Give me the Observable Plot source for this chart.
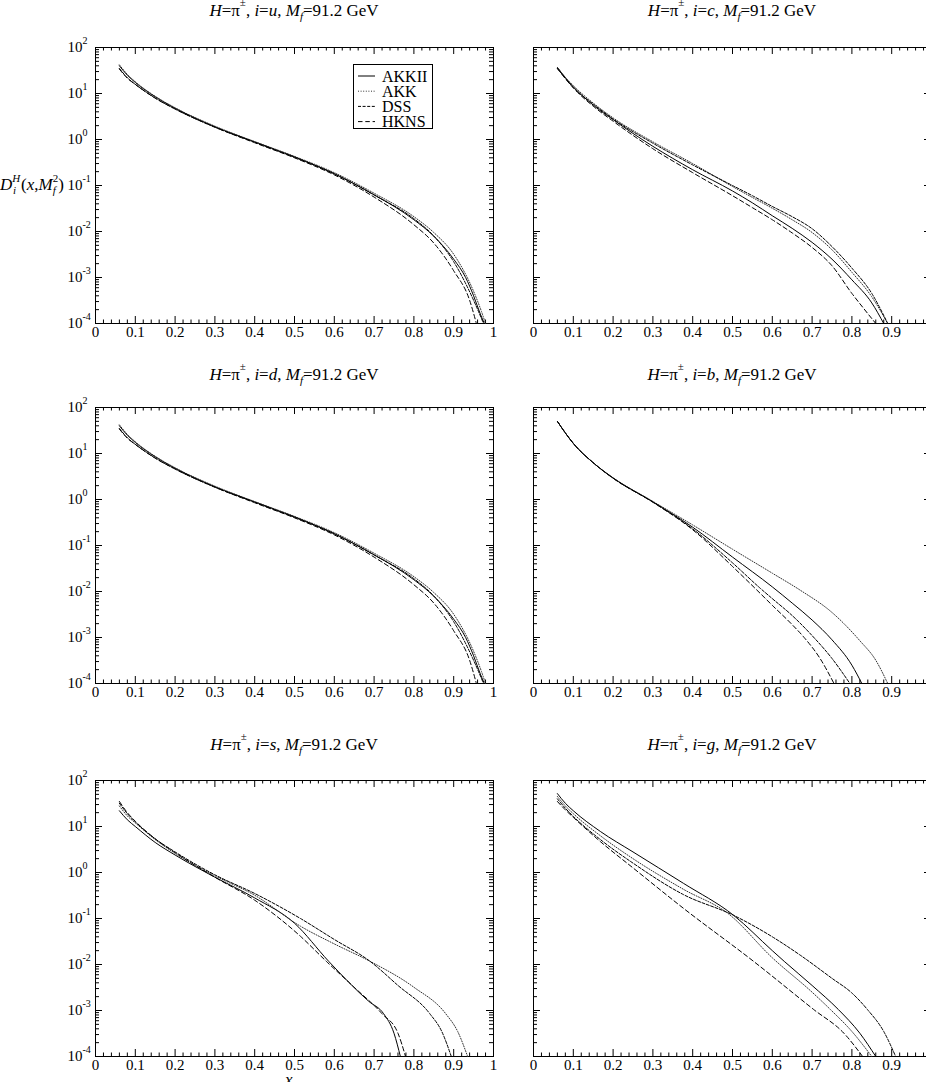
<!DOCTYPE html>
<html><head><meta charset="utf-8">
<script src="https://cdn.jsdelivr.net/npm/d3@7"></script>
<script src="https://cdn.jsdelivr.net/npm/@observablehq/plot@0.6"></script>
<style>
html,body{margin:0;padding:0;background:#fff;}
#wrap{position:relative;width:926px;height:1082px;overflow:hidden;font-family:"Liberation Serif","Times New Roman",serif;color:#000;}
.panel{position:absolute;}
.panel svg{max-width:none !important;}
.title{position:absolute;width:398px;text-align:center;font-size:17px;line-height:18px;white-space:nowrap;}
.sup{position:relative;top:-10px;font-size:11px;}
.sub{position:relative;top:4px;font-size:11px;}
</style></head>
<body><div id="wrap"></div>
<script>
// ---------- data (pairs of x, D(x)) ----------
const seriesNames = ["AKKII", "AKK", "DSS", "HKNS"];
const flavours = ["u", "c", "d", "b", "s", "g"];

const u_AKKII = [[0.06,40],[0.08,25],[0.1,17.4],[0.15,8.5],[0.2,4.8],[0.3,1.9],[0.4,0.89],[0.5,0.42],[0.6,0.18],[0.7,0.063],[0.8,0.018],[0.85,7.9e-3],[0.9,2.5e-3],[0.93,1.0e-3],[0.95,4.0e-4],[0.967,1.6e-4],[0.977,1e-4]];
const u_AKK   = [[0.06,42],[0.08,26],[0.1,18],[0.15,8.7],[0.2,4.9],[0.3,1.95],[0.4,0.9],[0.5,0.43],[0.6,0.19],[0.7,0.068],[0.8,0.021],[0.85,9.5e-3],[0.9,3.2e-3],[0.95,5e-4],[0.97,1.8e-4],[0.98,1e-4]];
const u_DSS   = [[0.06,35],[0.08,22],[0.1,15.8],[0.15,8.0],[0.2,4.6],[0.3,1.85],[0.4,0.87],[0.5,0.41],[0.6,0.18],[0.7,0.062],[0.8,0.019],[0.85,8.0e-3],[0.9,2.2e-3],[0.95,3.2e-4],[0.975,1e-4]];
const u_HKNS  = [[0.06,34],[0.08,21.5],[0.1,15.8],[0.15,7.9],[0.2,4.6],[0.3,1.85],[0.4,0.85],[0.5,0.4],[0.6,0.17],[0.7,0.056],[0.8,0.014],[0.85,5.6e-3],[0.9,1.4e-3],[0.94,3.2e-4],[0.957,1e-4]];

const c_AKKII = [[0.06,37],[0.08,22],[0.1,14],[0.15,5.6],[0.2,2.7],[0.3,0.71],[0.4,0.22],[0.5,0.076],[0.55,0.042],[0.6,0.022],[0.65,0.0117],[0.7,5.8e-3],[0.75,2.5e-3],[0.8,8.9e-4],[0.85,2.8e-4],[0.88,1e-4]];
const c_AKK   = [[0.06,37],[0.08,22.5],[0.1,14.8],[0.15,6.2],[0.2,2.95],[0.3,0.89],[0.4,0.3],[0.5,0.095],[0.55,0.055],[0.6,0.032],[0.65,0.018],[0.7,9.5e-3],[0.75,4.0e-3],[0.8,1.3e-3],[0.85,3.8e-4],[0.89,1e-4]];
const c_DSS   = [[0.06,35],[0.08,21.5],[0.1,13.5],[0.15,5.9],[0.2,2.8],[0.3,0.83],[0.4,0.28],[0.5,0.1],[0.55,0.06],[0.6,0.035],[0.65,0.021],[0.7,0.0115],[0.75,4.7e-3],[0.8,1.6e-3],[0.85,4.5e-4],[0.89,1e-4]];
const c_HKNS  = [[0.06,35],[0.08,21],[0.1,13.2],[0.15,5.3],[0.2,2.5],[0.3,0.63],[0.4,0.19],[0.5,0.06],[0.55,0.033],[0.6,0.018],[0.65,9.3e-3],[0.7,4.5e-3],[0.75,1.8e-3],[0.8,4.5e-4],[0.83,2.1e-4],[0.86,1e-4]];

const d_AKKII = [[0.06,40],[0.08,25],[0.1,17.4],[0.15,8.5],[0.2,4.8],[0.3,1.9],[0.4,0.89],[0.5,0.42],[0.6,0.18],[0.7,0.063],[0.8,0.018],[0.85,7.9e-3],[0.9,2.5e-3],[0.93,1.0e-3],[0.95,4.0e-4],[0.967,1.6e-4],[0.977,1e-4]];
const d_AKK   = [[0.06,42],[0.08,26],[0.1,18],[0.15,8.7],[0.2,4.9],[0.3,1.95],[0.4,0.9],[0.5,0.43],[0.6,0.19],[0.7,0.068],[0.8,0.021],[0.85,9.5e-3],[0.9,3.2e-3],[0.95,5e-4],[0.97,1.8e-4],[0.98,1e-4]];
const d_DSS   = [[0.06,35],[0.08,22],[0.1,15.8],[0.15,8.0],[0.2,4.6],[0.3,1.85],[0.4,0.87],[0.5,0.41],[0.6,0.18],[0.7,0.062],[0.8,0.019],[0.85,8.0e-3],[0.9,2.2e-3],[0.95,3.2e-4],[0.975,1e-4]];
const d_HKNS  = [[0.06,34],[0.08,21.5],[0.1,15.8],[0.15,7.9],[0.2,4.6],[0.3,1.85],[0.4,0.85],[0.5,0.4],[0.6,0.17],[0.7,0.056],[0.8,0.014],[0.85,5.6e-3],[0.9,1.4e-3],[0.94,3.2e-4],[0.957,1e-4]];

const b_AKKII = [[0.06,50],[0.08,28],[0.1,16.6],[0.15,6.3],[0.2,2.95],[0.3,0.89],[0.4,0.25],[0.5,0.056],[0.6,0.0126],[0.65,5.6e-3],[0.7,2.4e-3],[0.75,8.9e-4],[0.8,2.5e-4],[0.825,1e-4]];
const b_AKK   = [[0.06,50],[0.08,28],[0.1,16.6],[0.15,6.3],[0.2,2.95],[0.3,0.91],[0.4,0.28],[0.5,0.083],[0.6,0.025],[0.67,0.0107],[0.75,3.5e-3],[0.82,8.5e-4],[0.86,3.2e-4],[0.89,1e-4]];
const b_DSS   = [[0.06,50],[0.08,28],[0.1,16.6],[0.15,6.3],[0.2,2.9],[0.3,0.88],[0.4,0.23],[0.5,0.042],[0.57,0.0117],[0.6,7e-3],[0.65,3e-3],[0.7,1.1e-3],[0.75,3.5e-4],[0.795,1e-4]];
const b_HKNS  = [[0.06,50],[0.08,28],[0.1,16.6],[0.15,6.3],[0.2,2.9],[0.3,0.87],[0.4,0.22],[0.5,0.035],[0.56,0.011],[0.6,5e-3],[0.65,1.9e-3],[0.68,1e-3],[0.72,3.5e-4],[0.755,1e-4]];

const s_AKKII = [[0.06,22],[0.08,14],[0.1,10],[0.15,4.5],[0.2,2.4],[0.3,0.79],[0.4,0.28],[0.5,0.079],[0.586,0.0117],[0.686,1.6e-3],[0.724,8.5e-4],[0.75,3.2e-4],[0.766,1e-4]];
const s_AKK   = [[0.06,28],[0.08,17],[0.1,12],[0.15,5.2],[0.2,2.6],[0.3,0.85],[0.4,0.32],[0.515,0.068],[0.6,0.028],[0.69,0.0117],[0.8,3.2e-3],[0.88,8.5e-4],[0.91,3.5e-4],[0.935,1e-4]];
const s_DSS   = [[0.06,32],[0.08,19],[0.1,12.6],[0.15,5.4],[0.2,2.8],[0.3,0.89],[0.4,0.35],[0.515,0.1],[0.6,0.035],[0.69,0.0117],[0.76,3.5e-3],[0.84,8.5e-4],[0.87,3.5e-4],[0.894,1e-4]];
const s_HKNS  = [[0.06,35],[0.08,20],[0.1,13],[0.15,5.4],[0.2,2.7],[0.3,0.79],[0.4,0.25],[0.515,0.041],[0.58,0.0117],[0.65,3.2e-3],[0.72,8.5e-4],[0.76,3.2e-4],[0.779,1e-4]];

const g_AKKII = [[0.06,52],[0.08,32],[0.1,22],[0.168,7.8],[0.25,2.8],[0.377,0.58],[0.503,0.117],[0.6,0.02],[0.63,0.0117],[0.7,3.5e-3],[0.766,1.05e-3],[0.82,3.2e-4],[0.86,1e-4]];
const g_AKK   = [[0.06,45],[0.08,28],[0.1,19],[0.168,6.3],[0.25,2.0],[0.377,0.43],[0.49,0.126],[0.6,0.014],[0.7,2.5e-3],[0.746,1.05e-3],[0.8,3.5e-4],[0.85,1e-4]];
const g_DSS   = [[0.06,40],[0.08,25],[0.1,16.6],[0.168,5.2],[0.25,1.6],[0.377,0.33],[0.503,0.117],[0.6,0.04],[0.67,0.016],[0.75,5e-3],[0.8,2.4e-3],[0.839,1.05e-3],[0.88,3.5e-4],[0.91,1e-4]];
const g_HKNS  = [[0.06,35],[0.08,23],[0.1,15.8],[0.168,4.7],[0.25,1.26],[0.377,0.166],[0.553,0.0117],[0.704,1.05e-3],[0.78,3.2e-4],[0.827,1e-4]];

// axis tick values and labels
const xMajor = [0, 0.1, 0.2, 0.3, 0.4, 0.5, 0.6, 0.7, 0.8, 0.9, 1];
const xMajorLabels = ["0", "0.1", "0.2", "0.3", "0.4", "0.5", "0.6", "0.7", "0.8", "0.9", "1"];
const yMajor = [1e2, 1e1, 1e0, 1e-1, 1e-2, 1e-3, 1e-4];
const yExponents = ["2", "1", "0", "-1", "-2", "-3", "-4"];

const panelData = {
  u: [u_AKKII, u_AKK, u_DSS, u_HKNS],
  c: [c_AKKII, c_AKK, c_DSS, c_HKNS],
  d: [d_AKKII, d_AKK, d_DSS, d_HKNS],
  b: [b_AKKII, b_AKK, b_DSS, b_HKNS],
  s: [s_AKKII, s_AKK, s_DSS, s_HKNS],
  g: [g_AKKII, g_AKK, g_DSS, g_HKNS]
};

// ---------- styling / layout ----------
const dash = {AKKII: null, AKK: "1,1.6", DSS: "3,1.6", HKNS: "4.5,2.8"};
const strokeOf = {AKKII: "#000", AKK: "#333", DSS: "#000", HKNS: "#000"};
const FW = 398, FH = 276;
const colLeft = [95, 533];
const rowTop = [47, 407, 780];
const titleBase = [16, 380, 750];

const xMinor = d3.range(0, 1.0001, 0.02).map(v => +v.toFixed(2)).filter(v => Math.abs(v * 10 - Math.round(v * 10)) > 1e-6);
const yMinor = [];
for (let e = -4; e < 2; e++) for (let k = 2; k <= 9; k++) yMinor.push(k * Math.pow(10, e));

const wrap = document.getElementById("wrap");

flavours.forEach((fl, idx) => {
  const col = idx % 2, row = Math.floor(idx / 2);
  const ml = col === 0 ? 95 : 30, mr = 12, mt = 10, mb = 28;
  const W = ml + FW + mr, H = mt + FH + mb;
  // the right column's frame runs past the picture's edge, so its last label is not shown
  const labelIdx = xMajor.map((d, i) => i).filter(i => col === 0 || xMajor[i] < 1);
  const marks = [
    Plot.frame({stroke: "#000", strokeWidth: 1}),
    Plot.tickX(xMajor, {x: d => d, insetTop: FH - 7, stroke: "#000"}),
    Plot.tickX(xMinor, {x: d => d, insetTop: FH - 3.5, stroke: "#000"}),
    Plot.tickX(xMajor, {x: d => d, insetBottom: FH - 7, stroke: "#000"}),
    Plot.tickX(xMinor, {x: d => d, insetBottom: FH - 3.5, stroke: "#000"}),
    Plot.tickY(yMajor, {y: d => d, insetRight: FW - 7, stroke: "#000"}),
    Plot.tickY(yMinor, {y: d => d, insetRight: FW - 4, stroke: "#000"}),
    Plot.tickY(yMajor, {y: d => d, insetLeft: FW - 7, stroke: "#000"}),
    Plot.tickY(yMinor, {y: d => d, insetLeft: FW - 4, stroke: "#000"}),
    Plot.text(labelIdx, {x: i => xMajor[i], frameAnchor: "bottom", dy: 13, text: i => xMajorLabels[i], fontSize: 15, fill: "#000"})
  ];
  if (col === 0) {
    marks.push(Plot.text(yMajor, {y: d => d, frameAnchor: "left", dx: -13, textAnchor: "end", text: () => "10", fontSize: 15, fill: "#000"}));
    marks.push(Plot.text(yMajor, {y: d => d, frameAnchor: "left", dx: -13, dy: -7, textAnchor: "start", text: (d, i) => yExponents[i], fontSize: 10, fill: "#000"}));
  }
  panelData[fl].forEach((arr, k) => {
    const nm = seriesNames[k];
    marks.push(Plot.line(arr, {x: d => d[0], y: d => d[1], stroke: strokeOf[nm], strokeWidth: 1, strokeDasharray: dash[nm], curve: "monotone-x"}));
  });
  const svg = Plot.plot({
    width: W, height: H,
    marginLeft: ml, marginRight: mr, marginTop: mt, marginBottom: mb,
    x: {domain: [0, 1], axis: null},
    y: {type: "log", domain: [1e-4, 1e2], axis: null},
    style: {fontFamily: "'Liberation Serif', 'Times New Roman', serif", background: "transparent", overflow: "visible", maxWidth: "none"},
    marks
  });
  svg.style.maxWidth = "none";
  const div = document.createElement("div");
  div.className = "panel";
  div.style.left = (colLeft[col] - ml) + "px";
  div.style.top = (rowTop[row] - mt) + "px";
  div.style.width = W + "px";
  div.style.height = H + "px";
  div.appendChild(svg);
  wrap.appendChild(div);

  const t = document.createElement("div");
  t.className = "title";
  t.style.left = colLeft[col] + "px";
  t.style.top = (titleBase[row] - 14) + "px";
  t.innerHTML = `<i>H</i>=π<span class="sup">±</span>, <i>i</i>=<i>${fl}</i>, <i>M</i><span class="sub"><i>f</i></span>=91.2 GeV`;
  wrap.appendChild(t);
});

// legend (top-left panel)
const lg = document.createElementNS("http://www.w3.org/2000/svg", "svg");
lg.setAttribute("width", 82); lg.setAttribute("height", 68);
lg.style.position = "absolute"; lg.style.left = "352px"; lg.style.top = "63px";
let lgHtml = `<rect x="1.5" y="1.5" width="79" height="64" fill="#fff" stroke="#000" stroke-width="1"/>`;
seriesNames.forEach((nm, i) => {
  const y = 13 + i * 15.2;
  lgHtml += `<line x1="6" x2="23" y1="${y}" y2="${y}" stroke="${strokeOf[nm]}" stroke-width="1" ${dash[nm] ? `stroke-dasharray="${dash[nm]}"` : ""}/>`;
  lgHtml += `<text x="30" y="${y + 5.5}" font-family="Liberation Serif, serif" font-size="16">${nm}</text>`;
});
lg.innerHTML = lgHtml;
wrap.appendChild(lg);

// y-axis title
const yl = document.createElementNS("http://www.w3.org/2000/svg", "svg");
yl.setAttribute("width", 80); yl.setAttribute("height", 32);
yl.style.position = "absolute"; yl.style.left = "0px"; yl.style.top = "170px";
yl.innerHTML = `<text x="0" y="20" font-family="Liberation Serif, serif" font-size="17"><tspan font-style="italic">D</tspan><tspan font-style="italic" font-size="11" dy="-8">H</tspan><tspan font-style="italic" font-size="11" x="13" dy="12">i</tspan><tspan x="21" dy="-4">(</tspan><tspan font-style="italic">x</tspan>,<tspan font-style="italic">M</tspan><tspan font-style="italic" font-size="11" dy="4">f</tspan><tspan font-size="11" dx="-3" dy="-12">2</tspan><tspan dy="8">)</tspan></text>`;
wrap.appendChild(yl);

// x-axis title (bottom-left, mostly cut off as in the reference)
const xl = document.createElement("div");
xl.style.cssText = "position:absolute;left:285px;top:1070px;font-size:17px;font-style:italic;line-height:20px;";
xl.textContent = "x";
wrap.appendChild(xl);
</script>
</body></html>
